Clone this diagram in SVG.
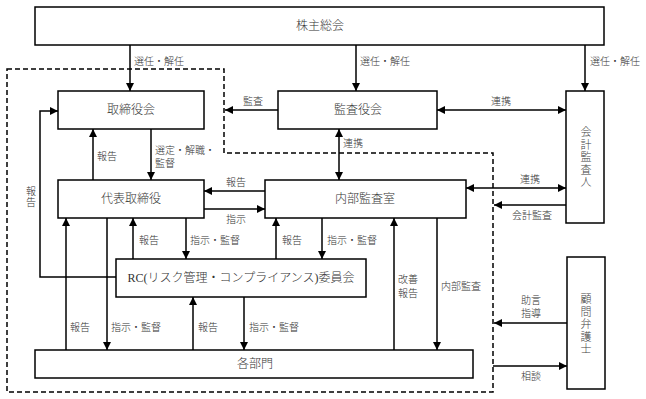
<svg xmlns="http://www.w3.org/2000/svg" width="646" height="399" viewBox="0 0 646 399">
<style>
.box{fill:#fff;stroke:#000;stroke-width:1.5}
.ln{fill:none;stroke:#000;stroke-width:1.5}
.dash{fill:none;stroke:#000;stroke-width:1.5;stroke-dasharray:5 3}
.bt{font-family:"Liberation Serif","Noto Sans CJK JP",serif;font-size:12px;font-weight:300;fill:#333;text-anchor:middle;dominant-baseline:central}
.vt{font-family:"Noto Sans CJK JP",sans-serif;font-size:11px;font-weight:300;fill:#444;text-anchor:middle;writing-mode:vertical-rl;letter-spacing:1.5px}
.lb{font-family:"Liberation Serif","Noto Sans CJK JP",serif;font-size:10px;font-weight:300;fill:#333;dominant-baseline:central}
.a{marker-end:url(#ah)}
.aa{marker-end:url(#ah);marker-start:url(#ah)}
</style>
<defs>
<marker id="ah" markerUnits="userSpaceOnUse" markerWidth="9" markerHeight="8" refX="8" refY="4" orient="auto-start-reverse" viewBox="0 0 9 8">
<path d="M0,0 L8,4 L0,8 z" fill="#000"/>
</marker>
</defs>
<rect width="646" height="399" fill="#fff"/>
<path id="scope" class="dash" d="M7,69 H224 V153 H493 V392 H7 Z"/>
<g id="connectors">
<line class="ln a" x1="130" y1="45" x2="130" y2="91"/>
<line class="ln a" x1="356" y1="45" x2="356" y2="91"/>
<line class="ln a" x1="585" y1="45" x2="585" y2="91"/>
<line class="ln a" x1="278" y1="110" x2="225" y2="110"/>
<line class="ln aa" x1="437" y1="110" x2="566" y2="110"/>
<line class="ln aa" x1="339" y1="129" x2="339" y2="180"/>
<line class="ln a" x1="93" y1="180" x2="93" y2="129"/>
<line class="ln a" x1="151" y1="129" x2="151" y2="180"/>
<line class="ln a" x1="265" y1="191" x2="204" y2="191"/>
<line class="ln a" x1="204" y1="209" x2="265" y2="209"/>
<line class="ln aa" x1="466" y1="188" x2="566" y2="188"/>
<line class="ln a" x1="566" y1="205" x2="494" y2="205"/>
<path class="ln a" d="M116,277 H40 V111 H58"/>
<line class="ln a" x1="66" y1="350" x2="66" y2="218"/>
<line class="ln a" x1="107" y1="218" x2="107" y2="350"/>
<line class="ln a" x1="133" y1="259" x2="133" y2="218"/>
<line class="ln a" x1="186" y1="218" x2="186" y2="259"/>
<line class="ln a" x1="276" y1="259" x2="276" y2="218"/>
<line class="ln a" x1="322" y1="218" x2="322" y2="259"/>
<line class="ln a" x1="193" y1="350" x2="193" y2="297"/>
<line class="ln a" x1="244" y1="297" x2="244" y2="350"/>
<line class="ln a" x1="394" y1="350" x2="394" y2="218"/>
<line class="ln a" x1="437" y1="218" x2="437" y2="350"/>
<line class="ln a" x1="567" y1="323" x2="494" y2="323"/>
<line class="ln a" x1="493" y1="366" x2="567" y2="366"/>
</g>
<g id="labels">
<text class="lb" x="134" y="61">選任・解任</text>
<text class="lb" x="360" y="61">選任・解任</text>
<text class="lb" x="590" y="61">選任・解任</text>
<text class="lb" x="243" y="101">監査</text>
<text class="lb" x="491" y="101">連携</text>
<text class="lb" x="97" y="156">報告</text>
<text class="lb" x="155" y="150">選定・解職・</text>
<text class="lb" x="155" y="163">監督</text>
<text class="lb" x="343" y="143">連携</text>
<text class="lb" x="226" y="182">報告</text>
<text class="lb" x="226" y="219">指示</text>
<text class="lb" x="520" y="179">連携</text>
<text class="lb" x="512" y="215">会計監査</text>
<text class="lb" x="30" y="197" text-anchor="middle" style="writing-mode:vertical-rl;dominant-baseline:auto;letter-spacing:1px">報告</text>
<text class="lb" x="139" y="240">報告</text>
<text class="lb" x="190" y="240">指示・監督</text>
<text class="lb" x="282" y="240">報告</text>
<text class="lb" x="327" y="240">指示・監督</text>
<text class="lb" x="70" y="327">報告</text>
<text class="lb" x="111" y="327">指示・監督</text>
<text class="lb" x="198" y="327">報告</text>
<text class="lb" x="249" y="327">指示・監督</text>
<text class="lb" x="398" y="279">改善</text>
<text class="lb" x="398" y="293">報告</text>
<text class="lb" x="441" y="286">内部監査</text>
<text class="lb" x="521" y="300">助言</text>
<text class="lb" x="521" y="313">指導</text>
<text class="lb" x="521" y="376">相談</text>
</g>
<g id="n-shareholders"><rect class="box" x="35" y="7" width="569" height="38"/><text class="bt" x="320" y="26">株主総会</text></g>
<g id="n-board"><rect class="box" x="58" y="91" width="146" height="38"/><text class="bt" x="131" y="110">取締役会</text></g>
<g id="n-auditors"><rect class="box" x="278" y="91" width="159" height="38"/><text class="bt" x="358" y="110">監査役会</text></g>
<g id="n-accounting-auditor"><rect class="box" x="566" y="91" width="38" height="132"/>
<text class="vt" x="586" y="158">会計監査人</text></g>
<g id="n-ceo"><rect class="box" x="58" y="180" width="146" height="38"/><text class="bt" x="131" y="199">代表取締役</text></g>
<g id="n-internal-audit"><rect class="box" x="265" y="180" width="201" height="38"/><text class="bt" x="365" y="199">内部監査室</text></g>
<g id="n-rc"><rect class="box" x="116" y="259" width="250" height="38"/><text class="bt" x="241" y="278" textLength="227" lengthAdjust="spacingAndGlyphs">RC(リスク管理・コンプライアンス)委員会</text></g>
<g id="n-departments"><rect class="box" x="35" y="350" width="438" height="28"/><text class="bt" x="255" y="364">各部門</text></g>
<g id="n-lawyer"><rect class="box" x="567" y="257" width="38" height="132"/>
<text class="vt" x="586" y="325">顧問弁護士</text></g>
</svg>
